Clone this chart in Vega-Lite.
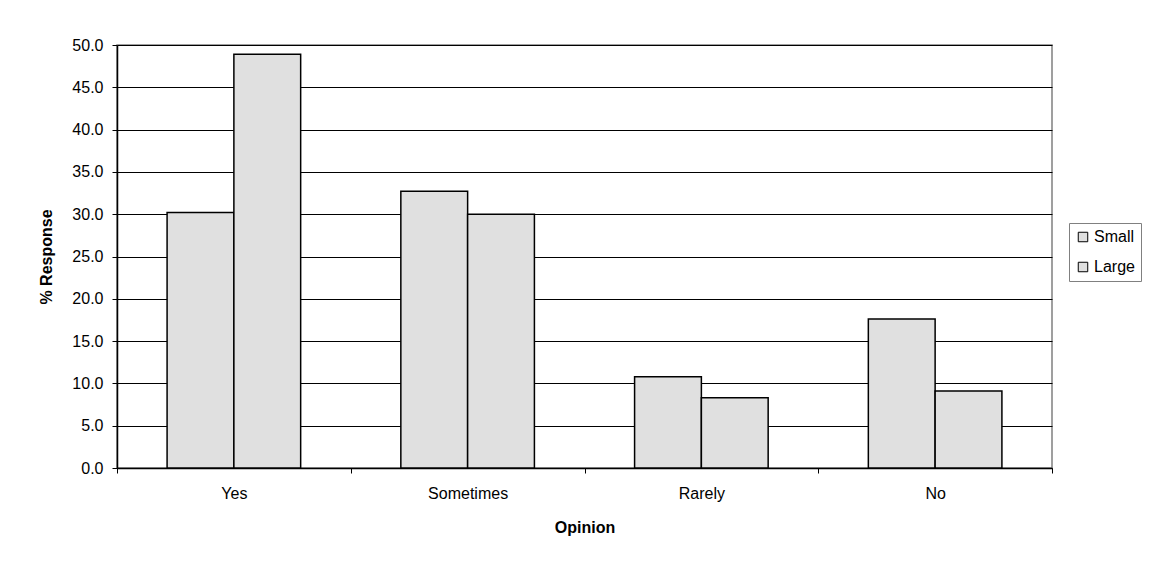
{
  "$schema": "https://vega.github.io/schema/vega-lite/v6.json",
  "width": 935,
  "height": 423,
  "autosize": {"type": "none"},
  "padding": {"left": 117, "top": 45, "right": 102, "bottom": 98},
  "background": "white",
  "config": {
    "font": "Liberation Sans",
    "view": {"stroke": "#808080", "strokeWidth": 1.5},
    "axis": {
      "labelFont": "Liberation Sans",
      "titleFont": "Liberation Sans",
      "labelColor": "black",
      "titleColor": "black",
      "labelFontSize": 16,
      "titleFontSize": 16
    }
  },
  "data": {
    "values": [
      {"opinion": "Yes", "size": "Small", "pct": 30.2},
      {"opinion": "Yes", "size": "Large", "pct": 48.9},
      {"opinion": "Sometimes", "size": "Small", "pct": 32.7},
      {"opinion": "Sometimes", "size": "Large", "pct": 30.0},
      {"opinion": "Rarely", "size": "Small", "pct": 10.8},
      {"opinion": "Rarely", "size": "Large", "pct": 8.3},
      {"opinion": "No", "size": "Small", "pct": 17.6},
      {"opinion": "No", "size": "Large", "pct": 9.1}
    ]
  },
  "mark": {"type": "bar", "stroke": "black", "strokeWidth": 1.5},
  "encoding": {
    "x": {
      "field": "opinion",
      "type": "nominal",
      "sort": ["Yes", "Sometimes", "Rarely", "No"],
      "scale": {"paddingInner": 0, "paddingOuter": 0},
      "axis": {
        "title": "Opinion",
        "labelAngle": 0,
        "tickBand": "extent",
        "domainColor": "black",
        "domainWidth": 1.5,
        "tickColor": "black",
        "tickSize": 5,
        "labelPadding": 12,
        "titleFontWeight": "bold",
        "titlePadding": 18,
        "grid": false
      }
    },
    "xOffset": {
      "field": "size",
      "type": "nominal",
      "sort": ["Small", "Large"],
      "scale": {"paddingInner": 0, "paddingOuter": 0.75}
    },
    "y": {
      "field": "pct",
      "type": "quantitative",
      "scale": {"domain": [0, 50]},
      "axis": {
        "title": "% Response",
        "format": ".1f",
        "values": [0, 5, 10, 15, 20, 25, 30, 35, 40, 45, 50],
        "grid": true,
        "gridColor": "black",
        "gridWidth": 1,
        "domainColor": "black",
        "domainWidth": 1.5,
        "tickColor": "black",
        "tickSize": 5,
        "labelPadding": 9,
        "titleFontWeight": "bold",
        "titlePadding": 17
      }
    },
    "fill": {
      "field": "size",
      "type": "nominal",
      "sort": ["Small", "Large"],
      "scale": {"range": ["#e0e0e0", "#e0e0e0"]},
      "legend": {
        "title": null,
        "orient": "none",
        "legendX": 952,
        "legendY": 178,
        "strokeColor": "#808080",
        "padding": 6,
        "labelFontSize": 16,
        "labelFont": "Liberation Sans",
        "labelColor": "black",
        "symbolType": "square",
        "symbolSize": 90,
        "symbolStrokeColor": "black",
        "symbolStrokeWidth": 1,
        "symbolFillColor": "#e0e0e0",
        "rowPadding": 14,
        "labelOffset": 3
      }
    }
  }
}
